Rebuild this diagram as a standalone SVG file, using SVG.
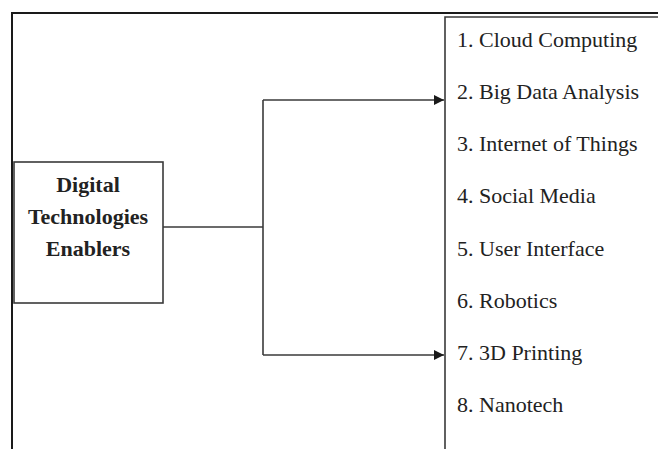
<svg xmlns="http://www.w3.org/2000/svg" width="658" height="449" viewBox="0 0 658 449">
<style>
.frame{fill:none;stroke:#1a1a1a;stroke-width:2}
.box{fill:#fff;stroke:#3a3a3a;stroke-width:1.6}
.conn{fill:none;stroke:#3a3a3a;stroke-width:1.6}
.lbl{font-family:"Liberation Serif","Times New Roman",serif;font-size:22px;fill:#222}
.title{font-family:"Liberation Serif","Times New Roman",serif;font-size:22px;font-weight:bold;fill:#222;text-anchor:middle}
</style>
<defs>
<marker id="arrow" viewBox="0 0 10 10" refX="10" refY="5" markerWidth="10" markerHeight="10" markerUnits="userSpaceOnUse" orient="auto">
<path d="M0,0 L10,5 L0,10 z" fill="#1a1a1a"/>
</marker>
</defs>
<rect width="658" height="449" fill="#fff"/>
<path class="frame" d="M12,449 V13 H658"/>
<g id="enablers">
<rect class="box" x="14" y="162" width="149" height="141"/>
<text class="title" x="88" y="192">Digital</text>
<text class="title" x="88" y="224">Technologies</text>
<text class="title" x="88" y="256">Enablers</text>
</g>
<g id="list">
<path class="box" d="M445,449 V17 H658"/>
<text class="lbl" x="457" y="47">1. Cloud Computing</text>
<text class="lbl" x="457" y="99">2. Big Data Analysis</text>
<text class="lbl" x="457" y="151">3. Internet of Things</text>
<text class="lbl" x="457" y="203">4. Social Media</text>
<text class="lbl" x="457" y="256">5. User Interface</text>
<text class="lbl" x="457" y="308">6. Robotics</text>
<text class="lbl" x="457" y="360">7. 3D Printing</text>
<text class="lbl" x="457" y="412">8. Nanotech</text>
</g>
<g id="connectors">
<path class="conn" d="M163,227 H263"/>
<path class="conn" d="M263,100 V355"/>
<path class="conn" d="M263,100 H444" marker-end="url(#arrow)"/>
<path class="conn" d="M263,355 H444" marker-end="url(#arrow)"/>
</g>
</svg>
